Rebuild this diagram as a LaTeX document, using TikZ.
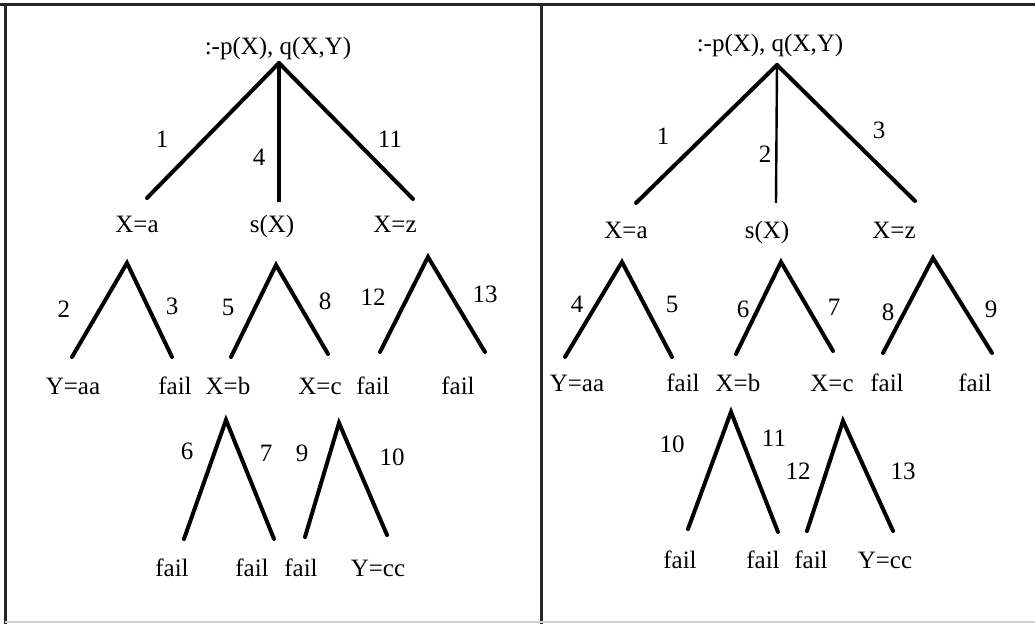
\documentclass[tikz,border=0pt]{standalone}
\usepackage{fontspec}
\setmainfont{Liberation Serif}
\usetikzlibrary{positioning}

\begin{document}
\begin{tikzpicture}[x=0.5pt, y=-0.5pt,
  every node/.style={font=\fontsize{12.5}{14}\selectfont, inner sep=0pt,
    text height=8.5pt, text depth=2.5pt},
  branch/.style={line width=2pt, line cap=round},
  stem/.style={line width=1.6pt},
  frame/.style={line width=1.5pt, black!85}]
  \useasboundingbox (0,0) rectangle (1035,624);
  % frame and divider
  \draw[frame] (0,5) -- (1035,5);
  \draw[frame] (5,5) -- (5,624);
  \draw[frame] (541,5) -- (541,624);
  \draw[gray!35, line width=0.8pt] (5,622) -- (1035,622);

  %%% left tree
  \node (lroot) at (278,49) {:-p(X), q(X,Y)};
  \coordinate (la) at (279,63);
  \node (lxa) at (137,227) {X=a};
  \node (lsx) at (272,227) {s(X)};
  \node (lxz) at (395,227) {X=z};
  \coordinate (la1) at (147,198);
  \coordinate (la2) at (279,202);
  \coordinate (la3) at (413,199);
  \draw[branch] (la) -- (la1);
  \draw[stem] (la) -- (la2);
  \draw[branch] (la) -- (la3);
  \node at (162,142) {1};
  \node at (259,160) {4};
  \node at (390,142) {11};
  % second level
  \coordinate (lb) at (127,263);
  \coordinate (lc) at (276,265);
  \coordinate (ld) at (428,257);
  \coordinate (lb1) at (72,357);  \coordinate (lb2) at (172,357);
  \coordinate (lc1) at (231,357); \coordinate (lc2) at (328,354);
  \coordinate (ld1) at (380,352); \coordinate (ld2) at (485,352);
  \draw[branch] (lb1) -- (lb) -- (lb2);
  \draw[branch] (lc1) -- (lc) -- (lc2);
  \draw[branch] (ld1) -- (ld) -- (ld2);
  \node at (64,312) {2};
  \node at (172,309) {3};
  \node at (228,310) {5};
  \node at (325,304) {8};
  \node at (373,300) {12};
  \node at (485,297) {13};
  \node (lyaa) at (73,389) {Y=aa};
  \node (lf1) at (175,389) {fail};
  \node (lxb) at (228,389) {X=b};
  \node (lxc) at (320,389) {X=c};
  \node (lf2) at (373,389) {fail};
  \node (lf3) at (458,389) {fail};
  % third level
  \coordinate (le) at (226,420);
  \coordinate (lf) at (339,423);
  \coordinate (le1) at (184,539); \coordinate (le2) at (274,539);
  \coordinate (lf1e) at (305,537); \coordinate (lf2e) at (387,535);
  \draw[branch] (le1) -- (le) -- (le2);
  \draw[branch] (lf1e) -- (lf) -- (lf2e);
  \node at (187,454) {6};
  \node at (266,456) {7};
  \node at (302,456) {9};
  \node at (392,460) {10};
  \node (lf4) at (172,571) {fail};
  \node (lf5) at (252,571) {fail};
  \node (lf6) at (301,571) {fail};
  \node (lycc) at (378,571) {Y=cc};

  %%% right tree
  \node (rroot) at (770,46) {:-p(X), q(X,Y)};
  \coordinate (ra) at (777,65);
  \node (rxa) at (626,233) {X=a};
  \node (rsx) at (767,233) {s(X)};
  \node (rxz) at (894,233) {X=z};
  \coordinate (ra1) at (636,203);
  \coordinate (ra2) at (776,203);
  \coordinate (ra3) at (915,201);
  \draw[branch] (ra) -- (ra1);
  \draw[line width=1.2pt] (ra) -- (ra2);
  \draw[branch] (ra) -- (ra3);
  \node at (663,139) {1};
  \node at (765,157) {2};
  \node at (879,133) {3};
  % second level
  \coordinate (rb) at (622,262);
  \coordinate (rc) at (781,262);
  \coordinate (rd) at (933,258);
  \coordinate (rb1) at (565,357); \coordinate (rb2) at (672,357);
  \coordinate (rc1) at (736,354); \coordinate (rc2) at (833,351);
  \coordinate (rd1) at (883,353); \coordinate (rd2) at (992,353);
  \draw[branch] (rb1) -- (rb) -- (rb2);
  \draw[branch] (rc1) -- (rc) -- (rc2);
  \draw[branch] (rd1) -- (rd) -- (rd2);
  \node at (577,307) {4};
  \node at (672,307) {5};
  \node at (743,312) {6};
  \node at (834,310) {7};
  \node at (888,315) {8};
  \node at (991,312) {9};
  \node (ryaa) at (577,386) {Y=aa};
  \node (rf1) at (683,386) {fail};
  \node (rxb) at (738,386) {X=b};
  \node (rxc) at (832,386) {X=c};
  \node (rf2) at (887,386) {fail};
  \node (rf3) at (975,386) {fail};
  % third level
  \coordinate (re) at (731,412);
  \coordinate (rf) at (843,421);
  \coordinate (re1) at (688,529); \coordinate (re2) at (778,532);
  \coordinate (rf1e) at (807,531); \coordinate (rf2e) at (893,531);
  \draw[branch] (re1) -- (re) -- (re2);
  \draw[branch] (rf1e) -- (rf) -- (rf2e);
  \node at (672,447) {10};
  \node at (774,441) {11};
  \node at (798,474) {12};
  \node at (903,474) {13};
  \node (rf4) at (680,563) {fail};
  \node (rf5) at (763,563) {fail};
  \node (rf6) at (811,563) {fail};
  \node (rycc) at (885,563) {Y=cc};
\end{tikzpicture}
\end{document}
